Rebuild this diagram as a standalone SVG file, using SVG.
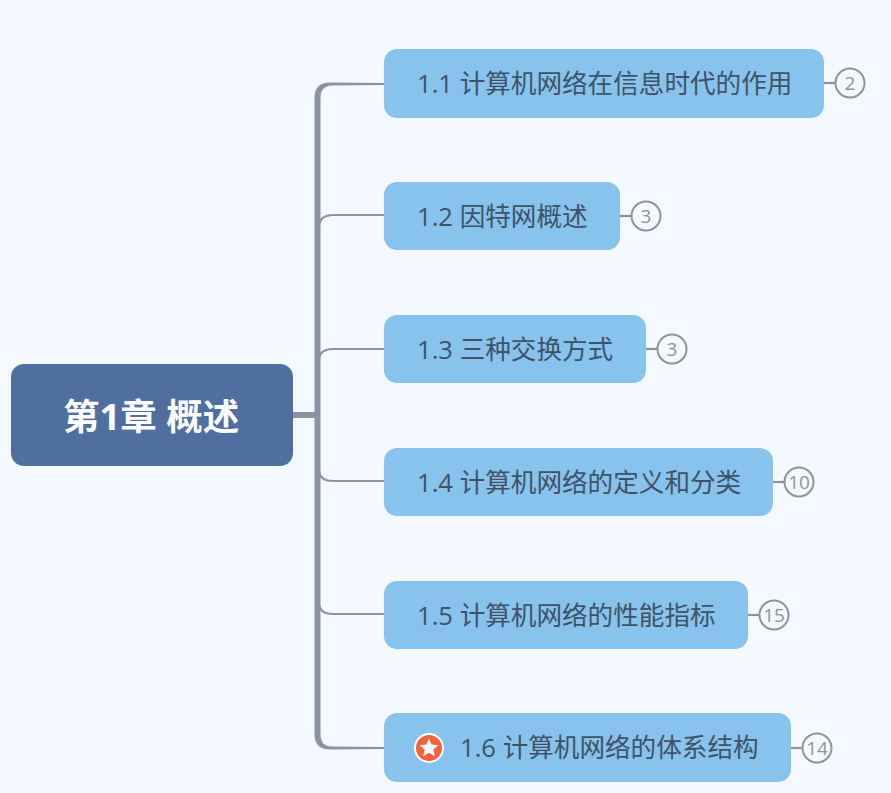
<svg xmlns="http://www.w3.org/2000/svg" width="891" height="793" viewBox="0 0 891 793">
<style>
text{font-family:"Open Sans","Noto Sans CJK SC",sans-serif}
.sub{fill:#87c3ec}
.t{font-size:25.6px;fill:#3f5268}
.root{font-size:36.5px;font-weight:700;fill:#fbfdff}
.trunk{fill:#8a92a6}
.br{fill:none;stroke:#8a92a6;stroke-width:2.2}
.cnt{fill:#f5f9ff;stroke:#8d939f;stroke-width:2}
.n{font-size:19px;fill:#8d939f;text-anchor:middle}
</style>
<rect width="891" height="793" fill="#f4f9ff"/>
<g id="connectors">
<rect class="trunk" x="293" y="412" width="24" height="6"/>
<path class="trunk" d="M314.500 98Q314.500 82.500 330 82.500L384 83V85L332 85.500Q320.500 86 320.500 98V734Q320.500 746.500 332 746.500L384 747V749L330 749.500Q314.500 749.500 314.500 734Z"/>
<path class="br" d="M319 226Q320 215 333 215H384"/>
<path class="br" d="M319 359Q320 349 333 349H384"/>
<path class="br" d="M319 471Q320 481 333 481H384"/>
<path class="br" d="M319 604Q320 614 333 614H384"/>
<path class="br" d="M824 83H836"/>
<path class="br" d="M620 216H632"/>
<path class="br" d="M646 349H658"/>
<path class="br" d="M773 482H785"/>
<path class="br" d="M748 615H760"/>
<path class="br" d="M791 748H803"/>
</g>
<g id="root"><rect x="11" y="364" width="282" height="102" rx="13" fill="#4e6f9f"/><text class="root" x="63" y="430">第1章 概述</text></g>
<g id="n1"><rect class="sub" x="384" y="49" width="440" height="69" rx="13"/><text class="t" x="417" y="93">1.1 计算机网络在信息时代的作用</text></g>
<g id="n2"><rect class="sub" x="384" y="182" width="236" height="68" rx="13"/><text class="t" x="417" y="226">1.2 因特网概述</text></g>
<g id="n3"><rect class="sub" x="384" y="315" width="262" height="68" rx="13"/><text class="t" x="417" y="359">1.3 三种交换方式</text></g>
<g id="n4"><rect class="sub" x="384" y="448" width="389" height="68" rx="13"/><text class="t" x="417" y="492">1.4 计算机网络的定义和分类</text></g>
<g id="n5"><rect class="sub" x="384" y="581" width="364" height="68" rx="13"/><text class="t" x="417" y="625">1.5 计算机网络的性能指标</text></g>
<g id="n6"><rect class="sub" x="384" y="713" width="407" height="69" rx="13"/>
<circle cx="429" cy="748" r="14" fill="#f4623a" stroke="#fff" stroke-width="2"/>
<polygon points="429,738.500 431.600,744.600 438.500,745.200 433.300,749.600 434.900,756.200 429,752.700 423.100,756.200 424.700,749.600 419.500,745.200 426.400,744.600" fill="#fff"/>
<text class="t" x="460" y="757">1.6 计算机网络的体系结构</text></g>
<g id="c1"><circle class="cnt" cx="850" cy="83" r="14.500"/><text class="n" x="850" y="90">2</text></g>
<g id="c2"><circle class="cnt" cx="646" cy="216" r="14.500"/><text class="n" x="646" y="223">3</text></g>
<g id="c3"><circle class="cnt" cx="672" cy="349" r="14.500"/><text class="n" x="672" y="356">3</text></g>
<g id="c4"><circle class="cnt" cx="799" cy="482" r="14.500"/><text class="n" x="799" y="489">10</text></g>
<g id="c5"><circle class="cnt" cx="774" cy="615" r="14.500"/><text class="n" x="774" y="622">15</text></g>
<g id="c6"><circle class="cnt" cx="817" cy="748" r="14.500"/><text class="n" x="817" y="755">14</text></g>
</svg>
